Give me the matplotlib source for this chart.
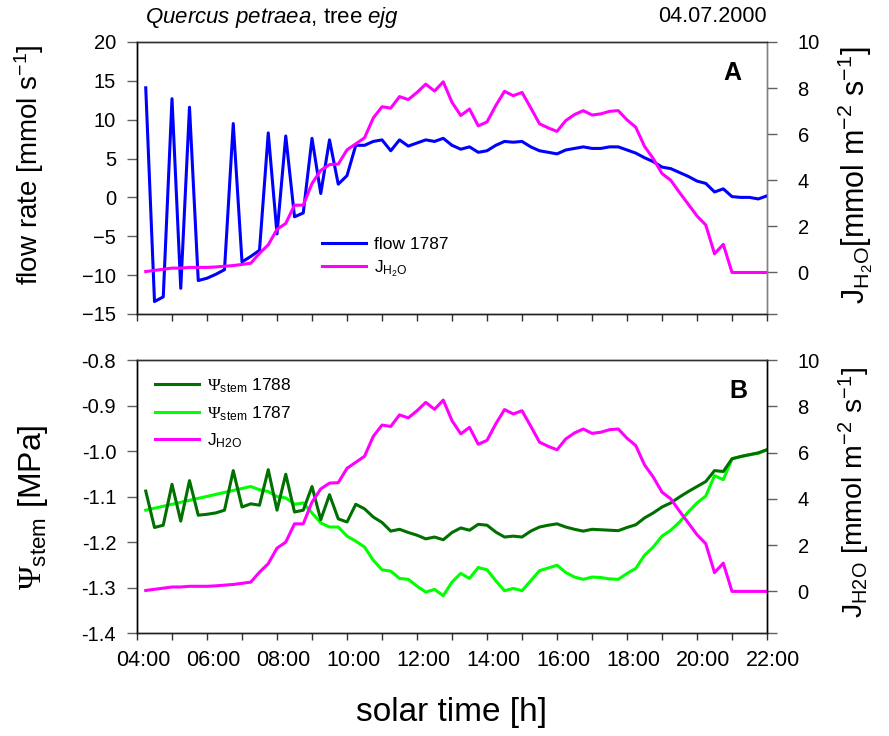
import numpy as np
import matplotlib
matplotlib.use("Agg")
import matplotlib.pyplot as plt
from matplotlib.transforms import ScaledTranslation

plt.rcParams['font.family'] = ['Liberation Sans', 'DejaVu Sans']
plt.rcParams['mathtext.fontset'] = 'custom'
plt.rcParams['mathtext.rm'] = 'Liberation Sans'
plt.rcParams['mathtext.it'] = 'Liberation Sans:italic'
plt.rcParams['mathtext.bf'] = 'Liberation Sans:bold'
plt.rcParams['mathtext.sf'] = 'Liberation Serif'   # used for the serif Psi

# data: 15 min readings, 04:15 .. 22:00 solar time
t_first, t_step = 4.25, 0.25

flow_1787 = [14.1, -13.4, -12.8, 12.7, -11.7, 11.6, -10.7, -10.4, -9.9, -9.3,
             9.5, -8.3, -7.6, -6.8, 8.3, -4.7, 7.9, -2.5, -2.0, 7.6,
             0.5, 7.4, 1.7, 2.8, 6.7, 6.7, 7.2, 7.4, 6.0, 7.4,
             6.6, 7.0, 7.4, 7.2, 7.6, 6.7, 6.2, 6.5, 5.8, 6.0,
             6.7, 7.2, 7.1, 7.2, 6.5, 6.0, 5.8, 5.6, 6.1, 6.3,
             6.5, 6.3, 6.3, 6.5, 6.5, 6.1, 5.7, 5.1, 4.6, 3.9,
             3.7, 3.2, 2.7, 2.1, 1.8, 0.7, 1.1, 0.1, 0.0, 0.0,
             -0.2, 0.2]

j_h2o = [0.04, 0.09, 0.14, 0.19, 0.19, 0.22, 0.22, 0.22, 0.24, 0.27,
         0.30, 0.35, 0.40, 0.83, 1.20, 1.87, 2.13, 2.92, 2.92, 3.86,
         4.43, 4.68, 4.70, 5.32, 5.58, 5.84, 6.70, 7.19, 7.13, 7.63,
         7.50, 7.81, 8.17, 7.87, 8.27, 7.38, 6.81, 7.09, 6.36, 6.53,
         7.24, 7.86, 7.67, 7.81, 7.14, 6.45, 6.27, 6.12, 6.59, 6.85,
         7.02, 6.83, 6.88, 6.99, 7.02, 6.62, 6.30, 5.47, 4.94, 4.29,
         4.00, 3.47, 2.96, 2.45, 2.06, 0.81, 1.22, 0.00, 0.00, 0.00,
         0.00, 0.00]

psi_1788 = [-1.088, -1.168, -1.163, -1.073, -1.154, -1.065, -1.141, -1.139, -1.136, -1.130,
            -1.043, -1.123, -1.116, -1.119, -1.041, -1.130, -1.051, -1.134, -1.130, -1.078,
            -1.151, -1.096, -1.149, -1.156, -1.117, -1.127, -1.145, -1.157, -1.176, -1.172,
            -1.179, -1.185, -1.193, -1.189, -1.195, -1.179, -1.169, -1.174, -1.161, -1.163,
            -1.178, -1.189, -1.187, -1.189, -1.176, -1.167, -1.163, -1.160, -1.167, -1.172,
            -1.176, -1.172, -1.173, -1.174, -1.175, -1.168, -1.162, -1.147, -1.136, -1.123,
            -1.114, -1.101, -1.089, -1.078, -1.067, -1.043, -1.045, -1.017, -1.012, -1.008,
            -1.004, -0.997]

nan = np.nan
# 1787 has no readings between 04:30 and 07:00
psi_1787 = [-1.130, nan, nan, nan, nan, nan, nan, nan, nan, nan,
            nan, nan, -1.078, -1.085, -1.089, -1.100, -1.103, -1.117, -1.114, -1.136,
            -1.158, -1.167, -1.167, -1.187, -1.198, -1.211, -1.240, -1.261, -1.264, -1.280,
            -1.282, -1.297, -1.310, -1.304, -1.318, -1.288, -1.269, -1.280, -1.256, -1.261,
            -1.285, -1.307, -1.302, -1.307, -1.285, -1.263, -1.257, -1.251, -1.267, -1.277,
            -1.282, -1.277, -1.278, -1.281, -1.282, -1.269, -1.258, -1.229, -1.211, -1.187,
            -1.174, -1.156, -1.134, -1.114, -1.099, -1.054, -1.063, -1.017, -1.012, -1.008,
            -1.005, -0.997]

hour_labels = ["04:00", "06:00", "08:00", "10:00", "12:00",
               "14:00", "16:00", "18:00", "20:00", "22:00"]

t = t_first + t_step * np.arange(len(flow_1787))
psi_1787 = np.array(psi_1787)
ok = ~np.isnan(psi_1787)

blue = '#0000ff'
magenta = '#ff00ff'
dkgreen = '#007000'
lime = '#00ff00'

fig = plt.figure(figsize=(8.89, 7.36), dpi=100)
axA = fig.add_axes([0.1541, 0.5734, 0.7087, 0.3696])
axB = fig.add_axes([0.1541, 0.1399, 0.7087, 0.3709])
axA2 = axA.twinx()
axB2 = axB.twinx()


def style_axes(ax, ax2, right_col):
    ax.set_xlim(4, 22)
    ax.set_xticks(np.arange(4, 23, 2))
    ax.set_xticks(np.arange(5, 22, 2), minor=True)
    ax.tick_params(axis='x', which='both', direction='out', length=5, width=1,
                   color='#303030', labelsize=15.5, pad=7)
    ax.tick_params(axis='y', direction='out', length=7, width=1,
                   color='#606060', labelsize=14.5, pad=8)
    ax2.tick_params(axis='y', direction='out', length=7, width=1,
                    color='#606060', labelsize=14.5, pad=15)
    for a in (ax, ax2):
        a.spines['left'].set_color('#000000')
        a.spines['bottom'].set_color('#202020')
        a.spines['top'].set_color('#303030')
        a.spines['right'].set_color(right_col)
        for s in a.spines.values():
            s.set_linewidth(1.0)


# panel A
axA.plot(t, flow_1787, color=blue, lw=2.2, label='flow 1787', zorder=3)
axA2.plot(t, j_h2o, color=magenta, lw=2.2, label=r'J$_{\mathrm{H_2O}}$')
axA.set_ylim(-15, 20)
axA.set_yticks(np.arange(-15, 21, 5))
axA2.set_ylim(-1.8, 10)
axA2.set_yticks([-1.8, 0, 2, 4, 6, 8, 10])
axA2.set_yticklabels(['', '0', '2', '4', '6', '8', '10'])
style_axes(axA, axA2, '#808080')
axA.tick_params(axis='x', which='both', labelbottom=False)

hA = axA.get_legend_handles_labels()
hA2 = axA2.get_legend_handles_labels()
axA.legend(hA[0] + hA2[0], hA[1] + hA2[1], loc='upper left',
           bbox_to_anchor=(0.294, 0.285), frameon=False, fontsize=12.5,
           handlelength=2.5, handletextpad=0.5, labelspacing=0.4,
           borderpad=0, borderaxespad=0)
axA.text(0.945, 0.885, 'A', transform=axA.transAxes, fontsize=18,
         fontweight='bold', ha='center', va='center')

# panel B
axB.plot(t, psi_1788, color=dkgreen, lw=2.2,
         label=r'$\mathsf{\Psi}_{\mathrm{stem}}$ 1788', zorder=3)
axB.plot(t[ok], psi_1787[ok], color=lime, lw=2.2,
         label=r'$\mathsf{\Psi}_{\mathrm{stem}}$ 1787', zorder=2)
axB2.plot(t, j_h2o, color=magenta, lw=2.2, label=r'J$_{\mathrm{H2O}}$')
axB.set_ylim(-1.4, -0.8)
axB.set_yticks(np.round(np.arange(-1.4, -0.75, 0.1), 1))
axB.set_yticklabels(['%.1f' % v for v in np.arange(-1.4, -0.75, 0.1)])
axB2.set_ylim(-1.8, 10)
axB2.set_yticks([-1.8, 0, 2, 4, 6, 8, 10])
axB2.set_yticklabels(['', '0', '2', '4', '6', '8', '10'])
style_axes(axB, axB2, '#000000')
axB.set_xticklabels(hour_labels)
for lab in axB.get_xticklabels():
    lab.set_transform(lab.get_transform() + ScaledTranslation(0.06, 0, fig.dpi_scale_trans))

hB = axB.get_legend_handles_labels()
hB2 = axB2.get_legend_handles_labels()
axB.legend(hB[0] + hB2[0], hB[1] + hB2[1], loc='upper left',
           bbox_to_anchor=(0.029, 0.94), frameon=False, fontsize=12.5,
           handlelength=2.5, handletextpad=0.5, labelspacing=0.5,
           borderpad=0, borderaxespad=0)
axB.text(0.955, 0.885, 'B', transform=axB.transAxes, fontsize=18,
         fontweight='bold', ha='center', va='center')

# axis titles, placed in figure pixels
W, H = 889.0, 736.0
fig.text(29 / W, 1 - 165 / H, r'flow rate [mmol s$^{-1}$]', rotation=90,
         ha='center', va='center', fontsize=20)
fig.text(855 / W, 1 - 175 / H, r'J$_{\mathrm{H_2O}}$[mmol m$^{-2}$ s$^{-1}$]',
         rotation=90, ha='center', va='center', fontsize=22)
fig.text(33 / W, 1 - 507 / H, r'$\mathsf{\Psi}_{\mathrm{stem}}$ [MPa]', rotation=90,
         ha='center', va='center', fontsize=23)
fig.text(854 / W, 1 - 492 / H, r'J$_{\mathrm{H2O}}$ [mmol m$^{-2}$ s$^{-1}$]',
         rotation=90, ha='center', va='center', fontsize=20.5)
fig.text(452 / W, 1 - 712 / H, 'solar time [h]', ha='center', va='center', fontsize=24)

fig.text(145 / W, 1 - 17 / H, r'$\mathit{Quercus\ petraea}$, tree $\mathit{ejg}$',
         ha='left', va='center', fontsize=16)
fig.text(767 / W, 1 - 17 / H, '04.07.2000', ha='right', va='center', fontsize=15.5)

fig.savefig('out.png', dpi=100)
